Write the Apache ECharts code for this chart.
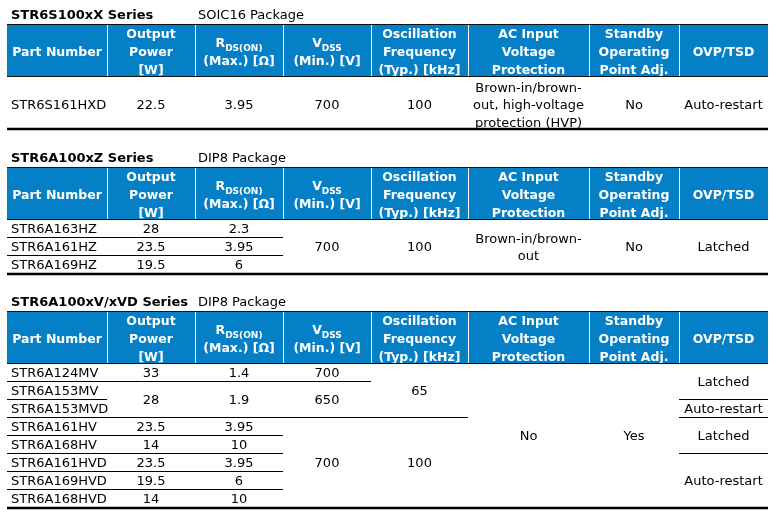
<!DOCTYPE html>
<html>
<head>
<meta charset="utf-8">
<script src="https://cdn.jsdelivr.net/npm/echarts@6/dist/echarts.min.js"></script>
<style>
html, body { margin: 0; padding: 0; background: #fff; }
#main { width: 780px; height: 517px; }
</style>
</head>
<body>
<div id="main"></div>
<script>
// column headers, same for all three tables
const headers = [
  'Part Number',
  'Output\nPower\n[W]',
  '{r|R}{s|DS(ON)}\n(Max.) [Ω]',
  '{r|V}{s|DSS}\n(Min.) [V]',
  'Oscillation\nFrequency\n(Typ.) [kHz]',
  'AC Input\nVoltage\nProtection',
  'Standby\nOperating\nPoint Adj.',
  'OVP/TSD'
]
const seriesNames = ['STR6S100xX Series', 'STR6A100xZ Series', 'STR6A100xV/xVD Series']
const packageNames = ['SOIC16 Package', 'DIP8 Package', 'DIP8 Package']

// table 1 (one row). cells are [text, rows spanned]
const xPart = [['STR6S161HXD', 1]]
const xPower = [['22.5', 1]]
const xRds = [['3.95', 1]]
const xVdss = [['700', 1]]
const xFreq = [['100', 1]]
const xAcProt = [['Brown-in/brown-\nout, high-voltage\nprotection (HVP)', 1]]
const xStandby = [['No', 1]]
const xOvp = [['Auto-restart', 1]]

// table 2
const zPart = [['STR6A163HZ', 1], ['STR6A161HZ', 1], ['STR6A169HZ', 1]]
const zPower = [['28', 1], ['23.5', 1], ['19.5', 1]]
const zRds = [['2.3', 1], ['3.95', 1], ['6', 1]]
const zVdss = [['700', 3]]
const zFreq = [['100', 3]]
const zAcProt = [['Brown-in/brown-\nout', 3]]
const zStandby = [['No', 3]]
const zOvp = [['Latched', 3]]

// table 3
const vPart = [['STR6A124MV', 1], ['STR6A153MV', 1], ['STR6A153MVD', 1], ['STR6A161HV', 1],
  ['STR6A168HV', 1], ['STR6A161HVD', 1], ['STR6A169HVD', 1], ['STR6A168HVD', 1]]
const vPower = [['33', 1], ['28', 2], ['23.5', 1], ['14', 1], ['23.5', 1], ['19.5', 1], ['14', 1]]
const vRds = [['1.4', 1], ['1.9', 2], ['3.95', 1], ['10', 1], ['3.95', 1], ['6', 1], ['10', 1]]
const vVdss = [['700', 1], ['650', 2], ['700', 5]]
const vFreq = [['65', 3], ['100', 5]]
const vAcProt = [['No', 8]]
const vStandby = [['Yes', 8]]
const vOvp = [['Latched', 2], ['Auto-restart', 1], ['Latched', 2], ['Auto-restart', 3]]

const tables = [
  [xPart, xPower, xRds, xVdss, xFreq, xAcProt, xStandby, xOvp],
  [zPart, zPower, zRds, zVdss, zFreq, zAcProt, zStandby, zOvp],
  [vPart, vPower, vRds, vVdss, vFreq, vAcProt, vStandby, vOvp]
]

// layout
const colX = [7, 107, 195, 283, 371, 468, 589, 679, 768]
const tableTops = [24, 167, 311]
const rowHeights = [52, 18, 18]
const textShift = [4, 2, 2]
const headH = 52
const FONT = '"DejaVu Sans", Verdana, sans-serif'
const BLUE = '#0580c6'

const els = []
function line(x1, y1, x2, y2, color, w) {
  els.push({ type: 'line', silent: true, shape: { x1, y1, x2, y2 }, style: { stroke: color, lineWidth: w } })
}
function text(str, x, y, opts) {
  els.push({
    type: 'text', silent: true, x, y,
    style: Object.assign({
      text: str, fill: '#000', fontSize: 13, fontFamily: FONT,
      align: 'center', verticalAlign: 'middle', lineHeight: 17.5
    }, opts)
  })
}

tables.forEach((cols, t) => {
  const top = tableTops[t]
  const rh = rowHeights[t]
  const bodyTop = top + headH
  const nRows = cols[0].reduce((s, c) => s + c[1], 0)
  const bottom = bodyTop + nRows * rh

  // title + package
  text(seriesNames[t], 11, top - 8, { align: 'left', fontWeight: 'bold', fontSize: 13 })
  text(packageNames[t], 198, top - 8, { align: 'left', fontSize: 13 })

  // header band
  els.push({ type: 'rect', silent: true, shape: { x: colX[0], y: top, width: colX[8] - colX[0], height: headH }, style: { fill: BLUE } })
  headers.forEach((h, c) => {
    text(h, (colX[c] + colX[c + 1]) / 2, top + 29, {
      fill: '#fff', fontWeight: 'bold', fontSize: 12.5, lineHeight: 18,
      rich: {
        r: { fill: '#fff', fontWeight: 'bold', fontSize: 12.5, fontFamily: FONT, lineHeight: 18 },
        s: { fill: '#fff', fontWeight: 'bold', fontSize: 9, fontFamily: FONT, lineHeight: 10, verticalAlign: 'bottom' }
      }
    })
  })
  // white cover below header hides overflowing third lines
  els.push({ type: 'rect', silent: true, shape: { x: colX[0], y: bodyTop, width: colX[8] - colX[0], height: 6 }, style: { fill: '#fff' } })
  line(colX[0], top + 0.5, colX[8], top + 0.5, '#111', 1)
  line(colX[0], bodyTop + 0.5, colX[8], bodyTop + 0.5, '#111', 1.2)
  for (let c = 1; c < 8; c++) line(colX[c] + 0.5, top + 1, colX[c] + 0.5, bodyTop, '#fff', 1)

  // body cells
  cols.forEach((cells, c) => {
    let r = 0
    cells.forEach(([str, span]) => {
      const y0 = bodyTop + r * rh
      const y1 = y0 + span * rh
      const cy = (y0 + y1) / 2 + textShift[t]
      if (c === 0) text(str, colX[0] + 4, cy, { align: 'left' })
      else text(str, (colX[c] + colX[c + 1]) / 2, cy)
      r += span
      if (r < nRows) line(colX[c], y1 + 0.5, colX[c + 1], y1 + 0.5, '#000', 1)
    })
  })

  line(colX[0], bottom + 1, colX[8], bottom + 1, '#000', 2.5)
})

const chart = echarts.init(document.getElementById('main'), null, { renderer: 'canvas' })
chart.setOption({
  backgroundColor: '#fff',
  animation: false,
  graphic: { elements: els }
})
</script>
</body>
</html>
